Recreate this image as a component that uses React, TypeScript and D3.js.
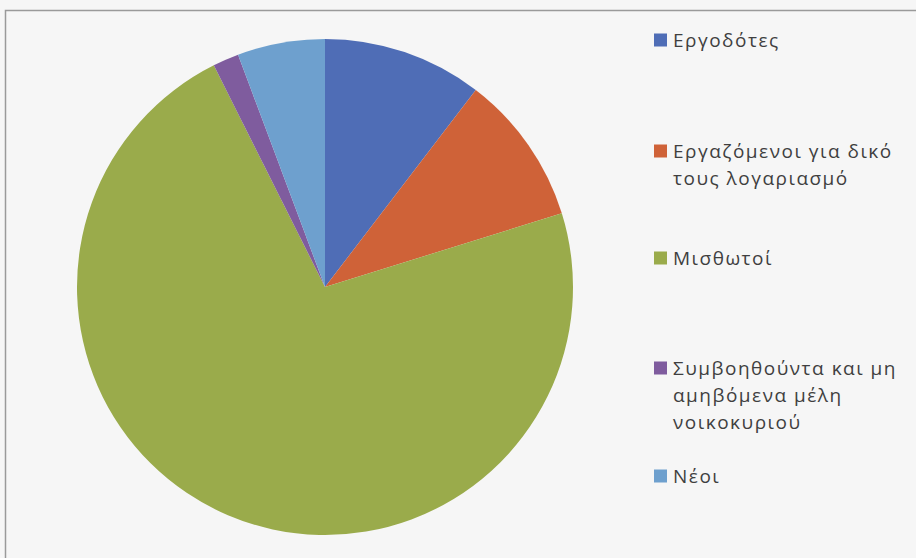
import React, { useEffect, useRef } from 'react';
import * as d3 from 'd3';

const categories = ['Εργοδότες', 'Εργαζόμενοι για δικό τους λογαριασμό', 'Μισθωτοί', 'Συμβοηθούντα και μη αμηβόμενα μέλη νοικοκυριού', 'Νέοι'];
const values = [10.4, 9.8, 72.4, 1.7, 5.7];
const colors = ['#4F6DB6', '#CF6238', '#9AAB4B', '#7F5C9E', '#6EA0CE'];
// legend lines (wrapped like the original)
const legendLines = [
  ['Εργοδότες'],
  ['Εργαζόμενοι για δικό', 'τους λογαριασμό'],
  ['Μισθωτοί'],
  ['Συμβοηθούντα και μη', 'αμηβόμενα μέλη', 'νοικοκυριού'],
  ['Νέοι'],
];

const App = () => {
  const ref = useRef<SVGSVGElement>(null);

  useEffect(() => {
    const width = 916;
    const height = 558;
    const svg = d3.select(ref.current);
    svg.selectAll('*').remove();
    svg.attr('width', width).attr('height', height);

    svg.append('rect').attr('width', width).attr('height', height).attr('fill', '#F6F6F6');
    svg.append('rect')
      .attr('x', 5.5).attr('y', 10.5)
      .attr('width', width + 10).attr('height', height + 10)
      .attr('fill', 'none').attr('stroke', '#9a9a9a').attr('stroke-width', 1.5);

    const cx = 325, cy = 287, r = 248;
    const data = categories.map((c, i) => ({ category: c, value: values[i] }));
    const pie = d3.pie<any>().sort(null).value((d: any) => d.value);
    const arc = d3.arc<any>().innerRadius(0).outerRadius(r);

    svg.append('g')
      .attr('transform', `translate(${cx},${cy})`)
      .selectAll('path')
      .data(pie(data))
      .join('path')
      .attr('d', arc as any)
      .attr('fill', (d, i) => colors[i]);

    // legend
    const rowY = [40, 151, 258, 368, 476];
    const lineH = 27;
    const lg = svg.append('g')
      .attr('font-family', '"Open Sans", "Noto Sans", sans-serif')
      .attr('font-size', 19)
      .attr('letter-spacing', 1.5)
      .attr('fill', '#3f3f3f');
    legendLines.forEach((lines, i) => {
      lg.append('rect')
        .attr('x', 654).attr('y', rowY[i] - 6.5)
        .attr('width', 13).attr('height', 13)
        .attr('fill', colors[i]);
      lines.forEach((t, j) => {
        lg.append('text')
          .attr('x', 673).attr('y', rowY[i] + j * lineH)
          .attr('dy', '0.35em')
          .text(t);
      });
    });
  }, []);

  return <svg ref={ref} style={{ position: 'absolute', left: 0, top: 0 }}></svg>;
};

export default App;
